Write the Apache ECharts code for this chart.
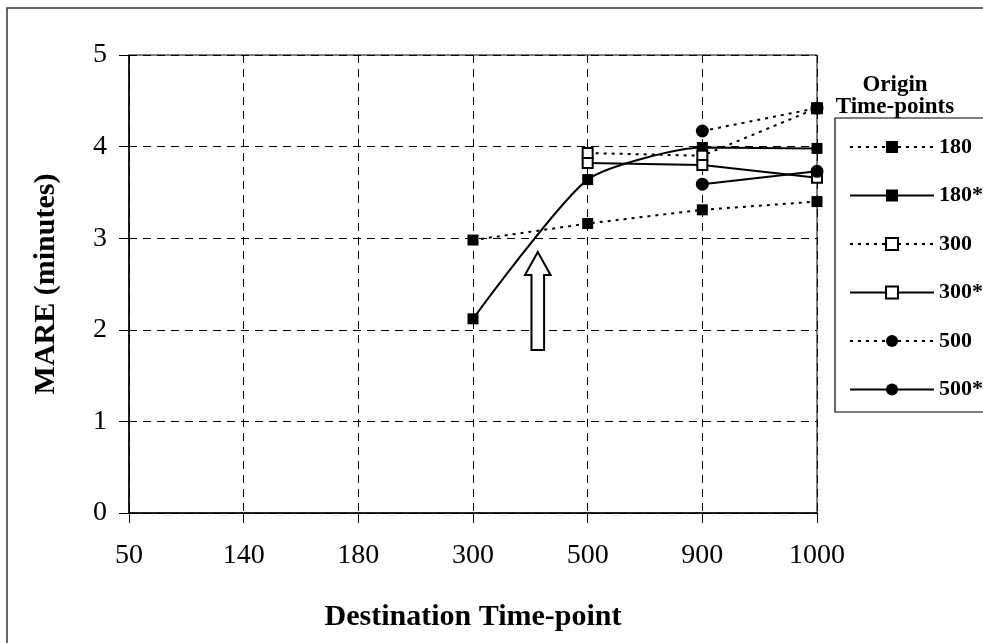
<!DOCTYPE html>
<html>
<head>
<meta charset="utf-8">
<script src="https://cdn.jsdelivr.net/npm/echarts@6/dist/echarts.min.js"></script>
<style>
html,body{margin:0;padding:0;background:#fff;}
#chart{width:983px;height:643px;}
</style>
</head>
<body>
<div id="chart"></div>
<script>
// Data
const categories = ['50', '140', '180', '300', '500', '900', '1000'];
const yTicks = [0, 1, 2, 3, 4, 5];
const s180     = [null, null, null, 2.98, 3.16, 3.31, 3.40];
const s180star = [null, null, null, 2.12, 3.64, 3.99, 3.98];
const s300     = [null, null, null, null, 3.93, 3.90, 4.42];
const s300star = [null, null, null, null, 3.82, 3.80, 3.66];
const s500     = [null, null, null, null, null, 4.17, 4.42];
const s500star = [null, null, null, null, null, 3.59, 3.73];
// Arrow annotation (category index between 300 and 500, value range)
const arrowCat = 3.565, arrowTop = 2.85, arrowBottom = 1.78;

const FONT = '"Liberation Serif", "Times New Roman", serif';
const dotted = [3, 5];

function mk(name, data, opts) {
  return Object.assign({
    name: name, type: 'line', data: data, connectNulls: false,
    symbolSize: 11, symbol: 'rect',
    lineStyle: { color: '#000', width: 2, type: 'solid' },
    itemStyle: { color: '#000', borderColor: '#000', borderWidth: 0 },
    emphasis: { disabled: true }, animation: false
  }, opts);
}

const hollow = { color: '#fff', borderColor: '#000', borderWidth: 2 };

const chart = echarts.init(document.getElementById('chart'), null, { renderer: 'canvas' });
const option = {
  animation: false,
  backgroundColor: '#fff',
  grid: { left: 129, right: 166, top: 55, bottom: 130, show: true, borderColor: '#000', borderWidth: 1, backgroundColor: 'transparent' },
  xAxis: {
    type: 'category', data: categories, boundaryGap: false,
    name: 'Destination Time-point', nameLocation: 'middle', nameGap: 89,
    nameTextStyle: { fontFamily: FONT, fontWeight: 'bold', fontSize: 30, color: '#000' },
    axisLine: { lineStyle: { color: '#000', width: 1.5 } },
    axisTick: { show: true, length: 10, inside: false, lineStyle: { color: '#000' } },
    axisLabel: { fontFamily: FONT, fontSize: 28, color: '#000', margin: 29 },
    splitLine: { show: true, lineStyle: { color: '#000', width: 1, type: [8, 6] } }
  },
  yAxis: {
    type: 'value', min: 0, max: 5, interval: 1,
    name: 'MARE (minutes)', nameLocation: 'middle', nameGap: 68, nameRotate: 90,
    nameTextStyle: { fontFamily: FONT, fontWeight: 'bold', fontSize: 30, color: '#000' },
    axisLine: { show: true, lineStyle: { color: '#000', width: 1.5 } },
    axisTick: { show: true, length: 10, lineStyle: { color: '#000' } },
    axisLabel: { fontFamily: FONT, fontSize: 28, color: '#000', margin: 22,
      formatter: function (v) { return yTicks.indexOf(v) >= 0 ? String(v) : ''; } },
    splitLine: { show: true, lineStyle: { color: '#000', width: 1, type: [8, 6] } }
  },
  legend: {
    orient: 'vertical', left: 844, top: 131, itemWidth: 84, itemHeight: 15, itemGap: 26.5,
    textStyle: { fontFamily: FONT, fontWeight: 'bold', fontSize: 22, color: '#000' },
    data: ['180', '180*', '300', '300*', '500', '500*']
  },
  series: [
    mk('180', s180, { lineStyle: { color: '#000', width: 2, type: dotted } }),
    mk('180*', s180star, { smooth: 0.2 }),
    mk('300', s300, { lineStyle: { color: '#000', width: 2, type: dotted }, itemStyle: hollow, symbolSize: 10 }),
    mk('300*', s300star, { itemStyle: hollow, symbolSize: 10 }),
    mk('500', s500, { symbol: 'circle', symbolSize: 13, lineStyle: { color: '#000', width: 2, type: dotted } }),
    mk('500*', s500star, { symbol: 'circle', symbolSize: 13 })
  ]
};
chart.setOption(option);

function drawExtras() {
  const c0 = Math.floor(arrowCat), f = arrowCat - c0;
  const pa = chart.convertToPixel({ gridIndex: 0 }, [c0, arrowTop]);
  const pb = chart.convertToPixel({ gridIndex: 0 }, [c0 + 1, arrowBottom]);
  const x = pa[0] + (pb[0] - pa[0]) * f;
  const yTip = pa[1], yBot = pb[1];
  const headH = 23, headW = 12.8, shaftW = 6.3;
  chart.setOption({
    graphic: [
      { type: 'rect', shape: { x: 7, y: 8, width: 1000, height: 700 }, style: { fill: 'none', stroke: '#333', lineWidth: 1.5 }, silent: true, z: 0 },
      { type: 'rect', shape: { x: 835, y: 118, width: 200, height: 294 }, style: { fill: 'none', stroke: '#000', lineWidth: 1.2 }, silent: true },
      { type: 'text', x: 895, y: 74, style: { text: 'Origin\nTime-points', font: 'bold 23px ' + FONT, fill: '#000', textAlign: 'center', lineHeight: 22 }, silent: true },
      { type: 'polygon', shape: { points: [
          [x, yTip], [x + headW, yTip + headH], [x + shaftW, yTip + headH], [x + shaftW, yBot],
          [x - shaftW, yBot], [x - shaftW, yTip + headH], [x - headW, yTip + headH]
        ] }, style: { fill: '#fff', stroke: '#000', lineWidth: 2 }, silent: true, z: 10 }
    ]
  });
}
drawExtras();
</script>
</body>
</html>
